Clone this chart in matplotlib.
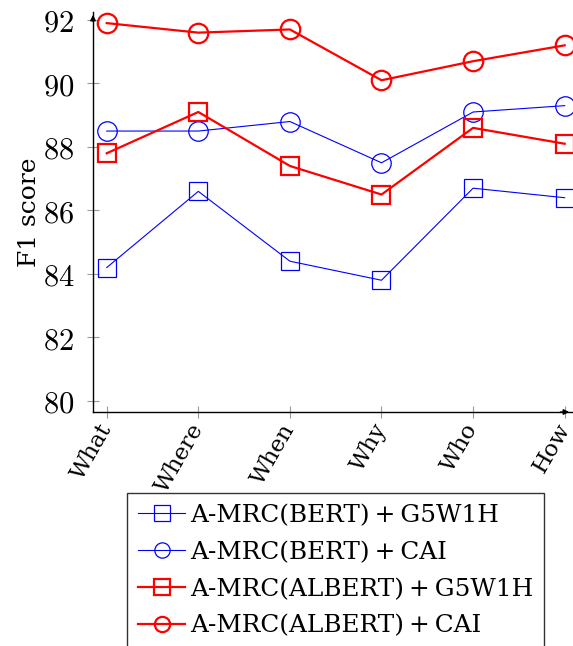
import matplotlib
matplotlib.use("Agg")
import matplotlib.pyplot as plt

categories = ["What", "Where", "When", "Why", "Who", "How"]
bert_g5w1h = [84.2, 86.6, 84.4, 83.8, 86.7, 86.4]
bert_cai = [88.5, 88.5, 88.8, 87.5, 89.1, 89.3]
albert_g5w1h = [87.8, 89.1, 87.4, 86.5, 88.6, 88.1]
albert_cai = [91.9, 91.6, 91.7, 90.1, 90.7, 91.2]
y_ticks = [80, 82, 84, 86, 88, 90, 92]

plt.rcParams["font.family"] = ["DejaVu Serif"]
plt.rcParams["mathtext.fontset"] = "cm"

fig = plt.figure(figsize=(5.73, 6.46), dpi=100)
ax = fig.add_axes([93 / 573, (646 - 412) / 646, 479 / 573, 400 / 646])

x = list(range(len(categories)))
blue = "#0000ff"
red = "#ff0000"
sp = "\u2009+\u2009"
ax.plot(x, bert_g5w1h, color=blue, lw=0.8, marker="s", ms=13, mfc="none",
        mec=blue, mew=0.9, label=f"A-MRC(BERT){sp}G5W1H")
ax.plot(x, bert_cai, color=blue, lw=0.8, marker="o", ms=14, mfc="none",
        mec=blue, mew=0.9, label=f"A-MRC(BERT){sp}CAI")
ax.plot(x, albert_g5w1h, color=red, lw=1.6, marker="s", ms=13, mfc="none",
        mec=red, mew=1.6, label=f"A-MRC(ALBERT){sp}G5W1H")
ax.plot(x, albert_cai, color=red, lw=1.6, marker="o", ms=14, mfc="none",
        mec=red, mew=1.6, label=f"A-MRC(ALBERT){sp}CAI")

ax.set_xlim(-0.15, 5.08)
ax.set_ylim(79.65, 92.25)

for s in ["top", "right"]:
    ax.spines[s].set_visible(False)
for s in ["left", "bottom"]:
    ax.spines[s].set_linewidth(1.0)

ax.annotate("", xy=(0, 1.0), xytext=(0, 0.97), xycoords="axes fraction",
            arrowprops=dict(arrowstyle="-|>", color="black", lw=1.0, mutation_scale=8))
ax.annotate("", xy=(1.0, 0), xytext=(0.97, 0), xycoords="axes fraction",
            arrowprops=dict(arrowstyle="-|>", color="black", lw=1.0, mutation_scale=8))

ax.set_yticks(y_ticks)
ax.set_yticklabels([f"${v}$" for v in y_ticks], fontsize=22)
ax.set_xticks(x)
ax.set_xticklabels(categories, rotation=60, ha="right", va="center",
                   rotation_mode="anchor", fontsize=16.5)
ax.tick_params(axis="both", direction="inout", length=9, width=0.8, color="#999999")
ax.tick_params(axis="y", pad=9)
ax.tick_params(axis="x", pad=5)

ax.set_ylabel("F1 score", fontsize=18)
ax.yaxis.set_label_coords(-0.108, 0.5)

leg = fig.legend(loc="upper left", bbox_to_anchor=(127 / 573, 1 - 493 / 646),
                 fontsize=17.8, frameon=True, fancybox=False, edgecolor="black",
                 handlelength=1.9, handletextpad=0.2, labelspacing=0.56,
                 borderpad=0.45, borderaxespad=0)
leg.get_frame().set_linewidth(1.0)
for h in leg.legend_handles:
    h.set_markersize(11)

fig.savefig("out.png", dpi=100)
